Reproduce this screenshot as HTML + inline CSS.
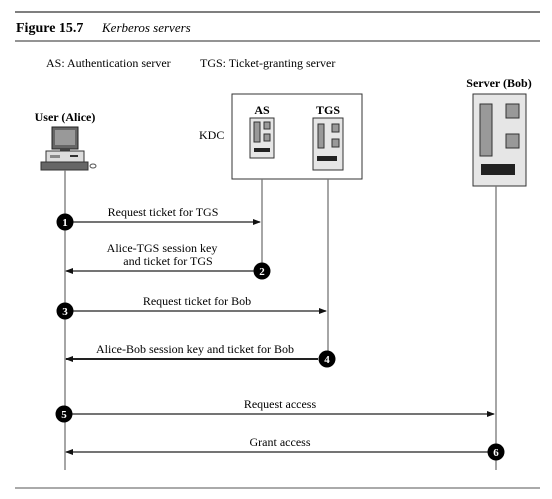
<!DOCTYPE html>
<html><head><meta charset="utf-8"><style>
html,body{margin:0;padding:0;background:#fff;}
svg{display:block;font-family:"Liberation Serif",serif;}
</style></head><body>
<svg width="552" height="499" viewBox="0 0 552 499" xmlns="http://www.w3.org/2000/svg">
<defs>
<marker id="ah" markerWidth="8" markerHeight="6" refX="7" refY="3" orient="auto" markerUnits="userSpaceOnUse">
<path d="M0,0 L8,3 L0,6 Z" fill="#111"/></marker>
</defs>
<line x1="15" y1="12" x2="540" y2="12" stroke="#555" stroke-width="1.5"/>
<text x="16" y="32" font-size="14" font-weight="bold">Figure 15.7</text>
<text x="102" y="32" font-size="13" font-style="italic">Kerberos servers</text>
<line x1="15" y1="41" x2="540" y2="41" stroke="#555" stroke-width="1.2"/>
<text x="46" y="67" font-size="12">AS: Authentication server</text>
<text x="200" y="67" font-size="12">TGS: Ticket-granting server</text>

<!-- Alice -->
<text x="65" y="121" font-size="12" font-weight="bold" text-anchor="middle">User (Alice)</text>
<rect x="52" y="127" width="26" height="22" fill="#666" stroke="#222"/>
<rect x="55" y="130" width="20" height="15" fill="#999"/>
<rect x="60" y="149" width="10" height="3" fill="#444"/>
<rect x="46" y="151" width="38" height="11" fill="#ddd" stroke="#333"/>
<rect x="50" y="155" width="10" height="3" fill="#888"/>
<rect x="70" y="155" width="8" height="2" fill="#333"/>
<rect x="41" y="162" width="47" height="8" fill="#666" stroke="#333"/>
<ellipse cx="93" cy="166" rx="3" ry="2" fill="none" stroke="#555"/>

<!-- KDC -->
<rect x="232" y="94" width="130" height="85" fill="#fff" stroke="#333"/>
<text x="199" y="139" font-size="12">KDC</text>
<text x="262" y="114" font-size="12" font-weight="bold" text-anchor="middle">AS</text>
<text x="328" y="114" font-size="12" font-weight="bold" text-anchor="middle">TGS</text>
<rect x="250" y="118" width="24" height="40" fill="#e6e6e6" stroke="#333"/>
<rect x="254" y="122" width="6" height="20" fill="#999" stroke="#333"/>
<rect x="264" y="122" width="6" height="7" fill="#999" stroke="#333"/>
<rect x="264" y="134" width="6" height="7" fill="#999" stroke="#333"/>
<rect x="254" y="148" width="16" height="4" fill="#222"/>
<rect x="313" y="118" width="30" height="52" fill="#e6e6e6" stroke="#333"/>
<rect x="318" y="124" width="6" height="24" fill="#999" stroke="#333"/>
<rect x="332" y="124" width="7" height="8" fill="#999" stroke="#333"/>
<rect x="332" y="139" width="7" height="8" fill="#999" stroke="#333"/>
<rect x="317" y="156" width="20" height="5" fill="#222"/>

<!-- Bob -->
<text x="499" y="87" font-size="12" font-weight="bold" text-anchor="middle">Server (Bob)</text>
<rect x="473" y="94" width="53" height="92" fill="#e6e6e6" stroke="#333"/>
<rect x="480" y="104" width="12" height="52" fill="#999" stroke="#333"/>
<rect x="506" y="104" width="13" height="14" fill="#999" stroke="#333"/>
<rect x="506" y="134" width="13" height="14" fill="#999" stroke="#333"/>
<rect x="481" y="164" width="34" height="11" fill="#222"/>

<!-- lifelines -->
<g stroke="#777" stroke-width="1.3">
<line x1="65" y1="170" x2="65" y2="470"/>
<line x1="262" y1="179" x2="262" y2="271"/>
<line x1="328" y1="179" x2="328" y2="359"/>
<line x1="496" y1="186" x2="496" y2="470"/>
</g>

<!-- arrows -->
<g stroke="#222" stroke-width="1.2" marker-end="url(#ah)">
<line x1="72" y1="222" x2="260" y2="222"/>
<line x1="255" y1="271" x2="66" y2="271"/>
<line x1="72" y1="311" x2="326" y2="311"/>
<line x1="318" y1="359" x2="66" y2="359" stroke-width="2"/>
<line x1="72" y1="414" x2="494" y2="414"/>
<line x1="488" y1="452" x2="66" y2="452"/>
</g>

<g font-size="12" text-anchor="middle">
<text x="163" y="216">Request ticket for TGS</text>
<text x="162" y="252">Alice-TGS session key</text>
<text x="168" y="265">and ticket for TGS</text>
<text x="197" y="305">Request ticket for Bob</text>
<text x="195" y="353">Alice-Bob session key and ticket for Bob</text>
<text x="280" y="408">Request access</text>
<text x="280" y="446">Grant access</text>
</g>

<g fill="#000">
<circle cx="65" cy="222" r="8.5"/>
<circle cx="262" cy="271" r="8.5"/>
<circle cx="65" cy="311" r="8.5"/>
<circle cx="327" cy="359" r="8.5"/>
<circle cx="64" cy="414" r="8.5"/>
<circle cx="496" cy="452" r="8.5"/>
</g>
<g fill="#fff" font-size="11" font-weight="bold" text-anchor="middle">
<text x="65" y="226">1</text>
<text x="262" y="275">2</text>
<text x="65" y="315">3</text>
<text x="327" y="363">4</text>
<text x="64" y="418">5</text>
<text x="496" y="456">6</text>
</g>

<line x1="15" y1="488" x2="540" y2="488" stroke="#777" stroke-width="1.2"/>
</svg>
</body></html>
